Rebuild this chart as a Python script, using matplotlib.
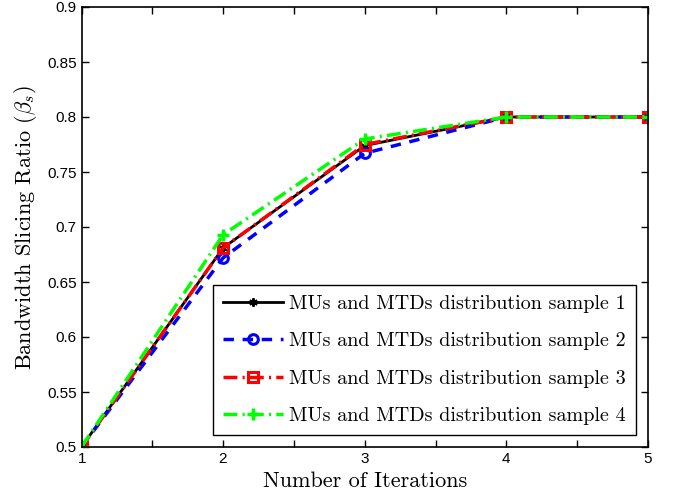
import matplotlib
matplotlib.use("Agg")
import matplotlib.pyplot as plt

iterations = [1, 2, 3, 4, 5]
sample1 = [0.5, 0.681, 0.774, 0.8, 0.8]
sample2 = [0.5, 0.672, 0.767, 0.8, 0.8]
sample3 = [0.5, 0.681, 0.775, 0.8, 0.8]
sample4 = [0.5, 0.693, 0.780, 0.8, 0.8]
labels = ["MUs and MTDs distribution sample 1",
          "MUs and MTDs distribution sample 2",
          "MUs and MTDs distribution sample 3",
          "MUs and MTDs distribution sample 4"]

plt.rcParams['mathtext.fontset'] = 'cm'
plt.rcParams['axes.formatter.use_mathtext'] = True
axis_font = {'family': 'cmr10', 'size': 16}
legend_font = {'family': 'cmr10', 'size': 14.5}

fig = plt.figure(figsize=(6.74, 4.96), dpi=100)
ax = fig.add_axes([81.5 / 674, 1 - 447 / 496, (648 - 81.5) / 674, (447 - 7) / 496])

ax.plot(iterations, sample1, color='black', linestyle='-', linewidth=2,
        marker=(6, 2, 0), markersize=6, markeredgewidth=1.5, label=labels[0])
ax.plot(iterations, sample2, color='blue', linestyle=(0, (3, 2.5)), linewidth=2.5,
        marker='o', markersize=7, markerfacecolor='none', markeredgewidth=2.2, label=labels[1])
ax.plot(iterations, sample3, color='red', linestyle=(0, (4, 1.5, 0.6, 1.5)), linewidth=2.5,
        marker='s', markersize=6.5, markerfacecolor='none', markeredgewidth=2.2, label=labels[2])
ax.plot(iterations, sample4, color=(0, 1, 0), linestyle=(0, (4, 1.5, 0.6, 1.5)), linewidth=2.5,
        marker='+', markersize=9, markeredgewidth=2.5, label=labels[3])

ax.set_xlim(1, 5)
ax.set_ylim(0.5, 0.9)
ax.set_xticks([1, 2, 3, 4, 5])
ax.set_xticks([1.5, 2.5, 3.5, 4.5], minor=True)
ax.set_yticks([0.5, 0.55, 0.6, 0.65, 0.7, 0.75, 0.8, 0.85, 0.9])
ax.set_yticklabels(['0.5', '0.55', '0.6', '0.65', '0.7', '0.75', '0.8', '0.85', '0.9'])
ax.tick_params(which='both', direction='in', top=True, right=True, labelsize=11, width=1)
ax.tick_params(which='major', length=5)
ax.tick_params(which='minor', length=5)
for lbl in ax.get_xticklabels() + ax.get_yticklabels():
    lbl.set_fontfamily('Liberation Sans')
for sp in ax.spines.values():
    sp.set_linewidth(1.2)

ax.set_xlabel("Number of Iterations", fontdict=axis_font, labelpad=4)
ax.set_ylabel(r"Bandwidth Slicing Ratio ($\beta_s$)", fontdict=axis_font, labelpad=6)

leg = ax.legend(loc='lower right', prop=legend_font, frameon=True, fancybox=False,
                edgecolor='black', framealpha=1, handlelength=3.0,
                borderaxespad=0.6, labelspacing=0.95, handletextpad=0.3,
                borderpad=0.5)
leg.get_frame().set_linewidth(1)

fig.savefig("out.png", dpi=100)
